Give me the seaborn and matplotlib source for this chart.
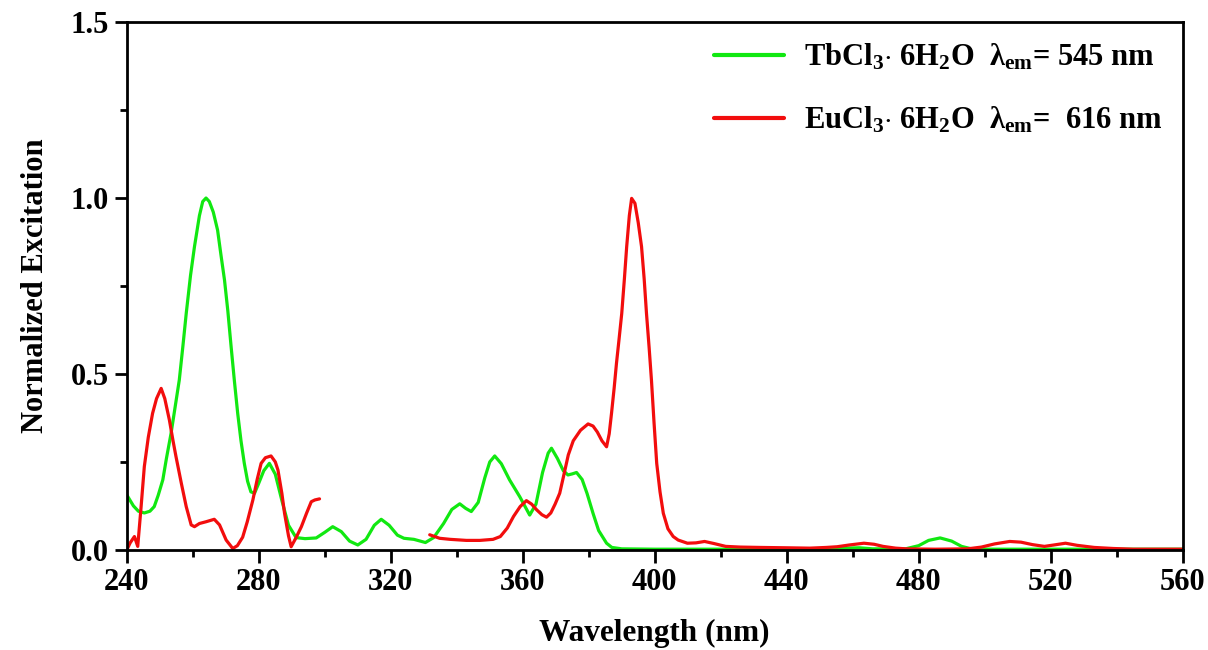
import matplotlib
matplotlib.use("Agg")
import matplotlib.pyplot as plt
from matplotlib.ticker import MultipleLocator
import seaborn as sns
import pandas as pd

# ---------------- data ----------------
tb_x = [240, 242, 243.5, 245.3, 247, 248.3, 249.5, 250.9, 252, 253.4, 254.7, 255.9, 257, 258,
        259.3, 260.5, 262, 263, 264, 265, 266.2, 267.5, 268.5, 269.6, 270.6, 271.6, 272.6,
        273.6, 274.6, 275.6, 276.6, 277.6, 278.7, 280, 281.5, 283.2, 285, 287, 289, 291.3,
        294, 297.4, 300, 302.4, 305, 307.5, 310, 312.5, 315, 317.1, 319.5, 322, 324, 327,
        330.5, 333, 336, 338.5, 340.9, 342.7, 344.4, 346.5, 348.5, 350, 351.5, 353.5, 356,
        359.1, 362.1, 364, 366, 367.7, 368.7, 370.5, 372.3, 373.7, 375, 376.3, 378, 379.5,
        381.3, 383, 385.4, 387, 390, 400, 450, 458, 462, 466, 476, 480, 483, 486.5, 490, 493,
        496, 500, 560]
tb_y = [0.156, 0.125, 0.11, 0.105, 0.11, 0.123, 0.155, 0.199, 0.26, 0.331, 0.41, 0.483, 0.58,
        0.672, 0.78, 0.862, 0.95, 0.99, 1.0, 0.99, 0.96, 0.909, 0.84, 0.767, 0.68, 0.578, 0.48,
        0.388, 0.31, 0.246, 0.195, 0.165, 0.161, 0.19, 0.225, 0.246, 0.215, 0.14, 0.07, 0.035,
        0.032, 0.034, 0.05, 0.066, 0.052, 0.025, 0.014, 0.03, 0.07, 0.087, 0.07, 0.042, 0.033,
        0.03, 0.021, 0.035, 0.075, 0.115, 0.131, 0.118, 0.109, 0.135, 0.205, 0.25, 0.267,
        0.245, 0.199, 0.151, 0.099, 0.13, 0.22, 0.275, 0.289, 0.26, 0.225, 0.213, 0.216, 0.22,
        0.2, 0.16, 0.104, 0.055, 0.019, 0.007, 0.003, 0.002, 0.002, 0.005, 0.006, 0.003, 0.003,
        0.012, 0.027, 0.034, 0.025, 0.01, 0.003, 0.002, 0.002]

eu1_x = [240, 241, 242.3, 243.3, 244.3, 245.3, 246.5, 247.8, 249, 250.4, 251.5, 252.9, 254,
         254.9, 256.5, 258, 259.5, 260.5, 262, 264, 266.5, 268.1, 270.1, 272.1, 273.5,
         275.1, 276.5, 278.2, 279.5, 280.7, 282, 283.7, 285, 285.8, 287, 287.8, 289, 289.8,
         291.3, 292.9, 294.5, 295.9, 297, 298.4]
eu1_y = [0.0, 0.02, 0.038, 0.01, 0.12, 0.237, 0.32, 0.388, 0.43, 0.459, 0.43, 0.369, 0.31,
         0.265, 0.19, 0.123, 0.071, 0.066, 0.075, 0.08, 0.087, 0.071, 0.028, 0.004, 0.012,
         0.036, 0.08, 0.142, 0.2, 0.246, 0.262, 0.267, 0.25, 0.227, 0.16, 0.104, 0.04,
         0.009, 0.035, 0.066, 0.105, 0.137, 0.142, 0.145]

eu2_x = [331.8, 334.8, 338, 342.9, 347, 351, 353.2, 355.3, 357.2, 359.2, 361.1, 362.7, 364.2,
         365.8, 367.2, 368.5, 369.8, 371.2, 372.5, 373.8, 375.3, 377.5, 379.8, 381.3, 382.6,
         384, 385.4, 386.2, 386.9, 387.7, 388.4, 389.2, 390, 390.8, 391.5, 392.3, 393, 394,
         395, 396, 396.8, 397.5, 398.3, 399, 399.8, 400.6, 401.6, 402.6, 404, 405.6, 407.1,
         409.9, 412.5, 415.1, 418, 421.5, 426, 432, 440, 447, 452, 455.3, 459, 463.4, 466.5,
         469.2, 473, 476.2, 485, 494.8, 499, 503, 507.6, 511, 514.5, 518.1, 521, 524.5, 528,
         533.2, 539, 545, 560]
eu2_y = [0.043, 0.033, 0.03, 0.027, 0.027, 0.03, 0.038, 0.062, 0.095, 0.123, 0.14, 0.13,
         0.114, 0.1, 0.093, 0.105, 0.13, 0.161, 0.215, 0.27, 0.31, 0.34, 0.358, 0.352, 0.335,
         0.31, 0.293, 0.33, 0.388, 0.46, 0.53, 0.60, 0.672, 0.77, 0.862, 0.95, 0.999, 0.985,
         0.93, 0.862, 0.77, 0.672, 0.575, 0.483, 0.36, 0.246, 0.165, 0.104, 0.06, 0.038,
         0.028, 0.019, 0.02, 0.024, 0.018, 0.01, 0.008, 0.007, 0.006, 0.005, 0.007, 0.009,
         0.014, 0.019, 0.016, 0.01, 0.005, 0.003, 0.002, 0.003, 0.008, 0.017, 0.024, 0.022,
         0.015, 0.01, 0.014, 0.019, 0.013, 0.007, 0.004, 0.002, 0.002]

tb_label = r'TbCl$_\mathbf{3}$$\mathbf{\cdot}$ 6H$_\mathbf{2}$O  λ$_\mathbf{em}$= 545 nm'
eu_label = r'EuCl$_\mathbf{3}$$\mathbf{\cdot}$ 6H$_\mathbf{2}$O  λ$_\mathbf{em}$=  616 nm'
x_ticks = [240, 280, 320, 360, 400, 440, 480, 520, 560]
y_ticks = [0.0, 0.5, 1.0, 1.5]

# ---------------- style ----------------
sns.set_style("ticks")
plt.rcParams['font.family'] = ['Liberation Serif', 'DejaVu Serif']
plt.rcParams['font.weight'] = 'bold'
plt.rcParams['text.color'] = 'black'
plt.rcParams['axes.labelcolor'] = 'black'
plt.rcParams['xtick.color'] = 'black'
plt.rcParams['ytick.color'] = 'black'
plt.rcParams['mathtext.fontset'] = 'custom'
plt.rcParams['mathtext.rm'] = 'Liberation Serif:bold'
plt.rcParams['mathtext.bf'] = 'Liberation Serif:bold'
plt.rcParams['mathtext.it'] = 'Liberation Serif:italic:bold'

green = '#11E811'
red = '#F20D0D'

fig = plt.figure(figsize=(12.08, 6.5), dpi=100)
ax = fig.add_axes([0.105, 0.154, 0.874, 0.812])

tb_df = pd.DataFrame({'x': tb_x, 'y': tb_y})
eu1_df = pd.DataFrame({'x': eu1_x, 'y': eu1_y})
eu2_df = pd.DataFrame({'x': eu2_x, 'y': eu2_y})

sns.lineplot(data=tb_df, x='x', y='y', ax=ax, color=green, lw=2.3, label=tb_label,
             sort=False, estimator=None)
sns.lineplot(data=eu1_df, x='x', y='y', ax=ax, color=red, lw=2.3, label=eu_label,
             sort=False, estimator=None)
sns.lineplot(data=eu2_df, x='x', y='y', ax=ax, color=red, lw=2.3, label='_nolegend_',
             sort=False, estimator=None)

ax.set_xlim(240, 560)
ax.set_ylim(0, 1.5)
ax.set_xticks(x_ticks)
ax.set_yticks(y_ticks)
ax.set_xticklabels([str(t) for t in x_ticks])
ax.set_yticklabels([f'{t:.1f}' for t in y_ticks])
ax.xaxis.set_minor_locator(MultipleLocator(20))
ax.yaxis.set_minor_locator(MultipleLocator(0.25))
ax.tick_params(axis='both', which='major', direction='out', length=9, width=2,
               labelsize=22, pad=4, colors='black')
ax.tick_params(axis='both', which='minor', direction='out', length=5, width=2,
               colors='black')
for lab in ax.get_xticklabels() + ax.get_yticklabels():
    lab.set_fontweight('bold')

for s in ax.spines.values():
    s.set_visible(True)
    s.set_linewidth(2)
    s.set_color('black')

ax.set_xlabel('Wavelength (nm)', fontsize=22.5, fontweight='bold', labelpad=16,
              color='black')
ax.set_ylabel('Normalized Excitation', fontsize=22, fontweight='bold', labelpad=15,
              color='black')

leg = ax.legend(loc='upper right', frameon=False, fontsize=22, handlelength=2.3,
                handletextpad=0.65, labelspacing=1.08, borderaxespad=0.25)
for line in leg.get_lines():
    line.set_linewidth(3)
for t in leg.get_texts():
    t.set_color('black')

fig.savefig('out.png', dpi=100)
